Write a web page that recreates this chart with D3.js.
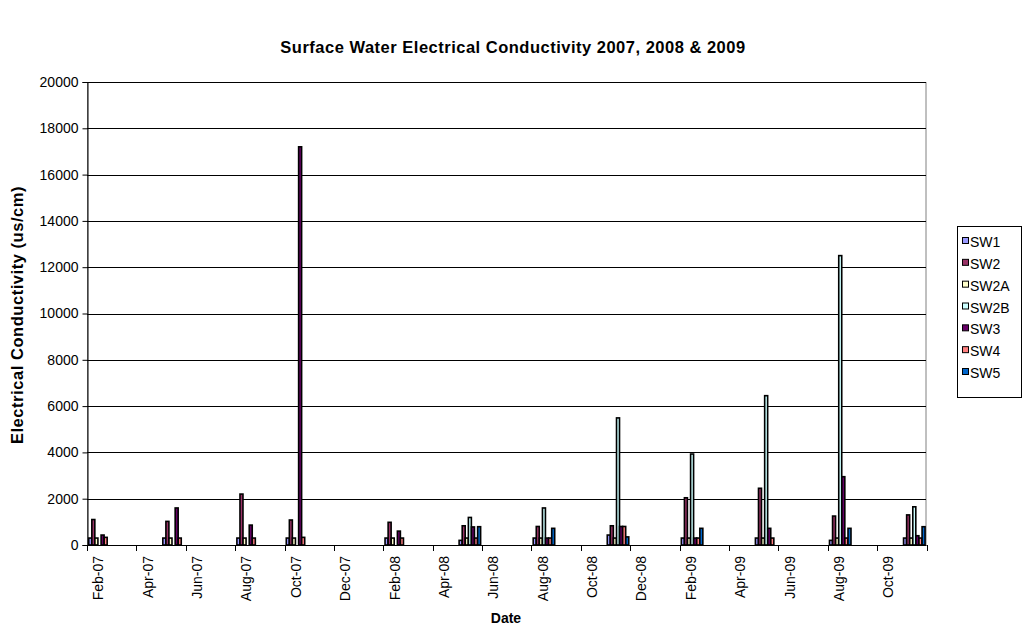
<!DOCTYPE html>
<html><head><meta charset="utf-8">
<script src="https://cdn.jsdelivr.net/npm/d3@7"></script>
<style>body{margin:0;background:#fff} svg{display:block;font-family:Arial,"Liberation Sans",sans-serif}</style>
</head><body><svg id="c" width="1024" height="626"></svg>
<script>
// ---- data ----
const sampleDates = ["Feb-07","May-07","Aug-07","Oct-07","Feb-08","May-08","Aug-08","Nov-08","Feb-09","May-09","Aug-09","Nov-09"];
const seriesNames = ["SW1","SW2","SW2A","SW2B","SW3","SW4","SW5"];
const seriesColors = ["#9999FF","#993366","#FFFFCC","#CCFFFF","#660066","#FF8080","#0066CC"];
const SW1  = [300, 300, 300, 300, 300, 200, 300, 430, 300, 300, 200, 300];
const SW2  = [1100, 1020, 2200, 1080, 980, 830, 800, 830, 2040, 2450, 1250, 1300];
const SW2A = [300, 300, 300, 300, 300, 300, 300, 300, 300, 300, 300, 300];
const SW2B = [null, null, null, null, null, 1190, 1600, 5490, 3930, 6450, 12500, 1650];
const SW3  = [430, 1600, 860, 17200, 600, 780, 300, 800, 300, 720, 2950, 400];
const SW4  = [330, 300, 300, 330, 300, 300, 300, 800, 300, 300, 300, 300];
const SW5  = [null, null, null, null, null, 790, 720, 350, 720, null, 720, 790];
const seriesValues = [SW1, SW2, SW2A, SW2B, SW3, SW4, SW5];
const xTickLabels = ["Feb-07","Apr-07","Jun-07","Aug-07","Oct-07","Dec-07","Feb-08","Apr-08","Jun-08","Aug-08","Oct-08","Dec-08","Feb-09","Apr-09","Jun-09","Aug-09","Oct-09"];
const yTicks = [0,2000,4000,6000,8000,10000,12000,14000,16000,18000,20000];

// ---- layout ----
const fmt = d3.timeFormat("%b-%y");
const months = d3.timeMonth.range(new Date(2007,1,1), new Date(2009,11,1)).map(fmt); // Feb-07 .. Nov-09
const L = 87, R = 926.5, T = 82, B = 545;
const svg = d3.select("#c");
const x = d3.scaleBand().domain(months).range([L, R]).padding(0);
const xs = d3.scaleBand().domain(seriesNames).range([0, x.bandwidth()]).paddingInner(0).paddingOuter(0.5);
const y = d3.scaleLinear().domain([0, 20000]).range([B, T]);

// plot border
svg.append("rect").attr("x", L+0.5).attr("y", T+0.5).attr("width", R-L-1).attr("height", B-T)
  .attr("fill", "#fff").attr("stroke", "#808080");

// gridlines
svg.append("g").selectAll("line").data(yTicks.filter(d => d > 0)).join("line")
  .attr("x1", L).attr("x2", R-0.5)
  .attr("y1", d => Math.round(y(d)) + 0.5).attr("y2", d => Math.round(y(d)) + 0.5)
  .attr("stroke", "#000").attr("stroke-width", 1);

// bars
const barData = [];
seriesNames.forEach((s, si) => sampleDates.forEach((d, di) => {
  const v = seriesValues[si][di];
  if (v != null) barData.push({s, d, v, c: seriesColors[si]});
}));
svg.append("g").selectAll("rect").data(barData).join("rect")
  .attr("x", b => x(b.d) + xs(b.s) + 0.2)
  .attr("width", 3.0)
  .attr("y", b => y(b.v))
  .attr("height", b => y(0) - y(b.v))
  .attr("fill", b => b.c).attr("stroke", "#000").attr("stroke-width", 1.6);

// y axis
const yAxis = svg.append("g").attr("transform", `translate(${L+0.5},0)`)
  .call(d3.axisLeft(y).tickValues(yTicks).tickSize(5).tickPadding(4).tickFormat(d3.format("d")));
yAxis.select(".domain").attr("stroke", "#000");
yAxis.selectAll(".tick line").attr("stroke", "#000");
yAxis.selectAll("text").attr("font-size", 14).attr("fill", "#000").attr("font-family", "Arial, 'Liberation Sans', sans-serif");

// x axis: ticks every 2 months at month starts
const tickMonths = months.filter((m, i) => i % 2 === 0);
const xg = svg.append("g");
xg.append("line").attr("x1", L).attr("x2", R).attr("y1", B + 0.5).attr("y2", B + 0.5).attr("stroke", "#000");
xg.selectAll("line.t").data(tickMonths.concat(["end"])).join("line").attr("class", "t")
  .attr("x1", m => Math.round(m === "end" ? R : x(m)) + 0.5)
  .attr("x2", m => Math.round(m === "end" ? R : x(m)) + 0.5)
  .attr("y1", B).attr("y2", B + 6).attr("stroke", "#000");
xg.selectAll("text").data(xTickLabels).join("text")
  .attr("transform", m => `translate(${x(m) + x.bandwidth()/2 - 1},556) rotate(-90)`)
  .attr("text-anchor", "end").attr("dy", "0.35em")
  .attr("font-size", 14).text(m => m);

// titles
svg.append("text").attr("x", 513).attr("y", 53).attr("text-anchor", "middle")
  .attr("font-size", 16.5).attr("font-weight", "bold").attr("letter-spacing", 0.5)
  .text("Surface Water Electrical Conductivity 2007, 2008 & 2009");
svg.append("text").attr("x", 506).attr("y", 623).attr("text-anchor", "middle")
  .attr("font-size", 14).attr("font-weight", "bold").text("Date");
svg.append("text").attr("transform", "translate(17,315) rotate(-90)").attr("text-anchor", "middle")
  .attr("dy", "0.35em").attr("font-size", 16.5).attr("font-weight", "bold").attr("letter-spacing", 0.55)
  .text("Electrical Conductivity (us/cm)");

// legend
const lg = svg.append("g");
lg.append("rect").attr("x", 957.5).attr("y", 226.5).attr("width", 64).attr("height", 171)
  .attr("fill", "#fff").attr("stroke", "#000");
const ly = d3.scalePoint().domain(seriesNames).range([247, 378]);
const items = lg.selectAll("g.i").data(seriesNames).join("g").attr("class", "i");
items.append("rect").attr("x", 962.5).attr("y", s => ly(s) - 9.5).attr("width", 6).attr("height", 6)
  .attr("fill", (s, i) => seriesColors[i]).attr("stroke", "#000");
items.append("text").attr("x", 970).attr("y", s => ly(s)).attr("font-size", 14).text(s => s);
</script></body></html>
